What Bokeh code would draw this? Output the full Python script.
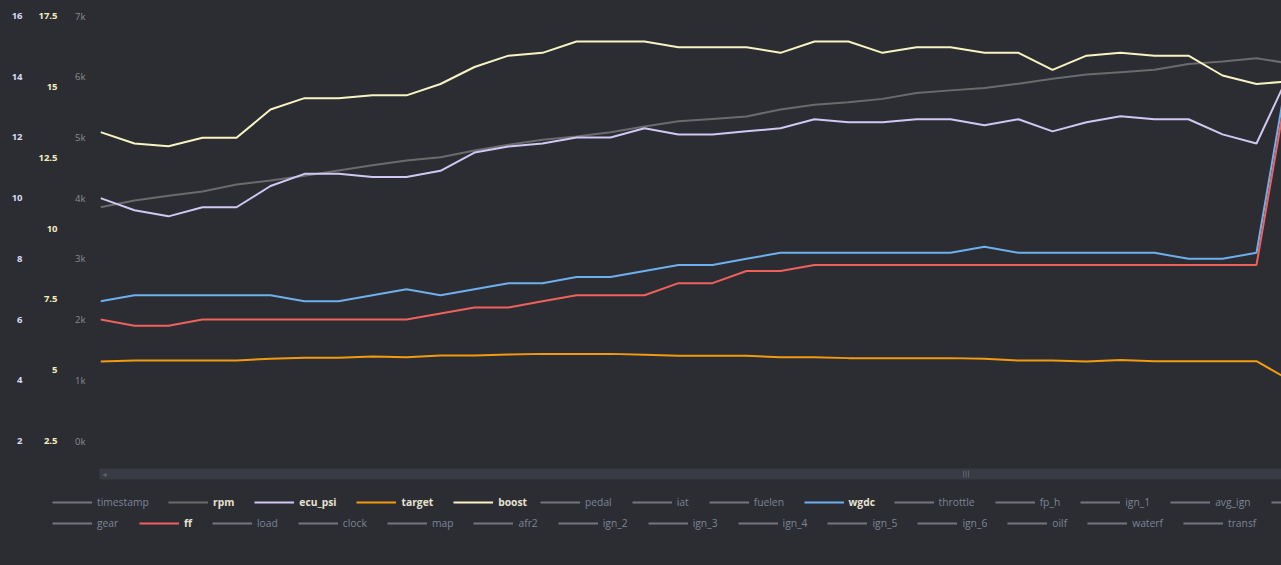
from bokeh.plotting import figure
from bokeh.models import (Range1d, LinearAxis, FixedTicker, Legend, LegendItem,
                          BoxAnnotation, Label)
from bokeh.layouts import column
from bokeh.embed import file_html
from bokeh.resources import INLINE

# ---- logged samples -------------------------------------------------------
sample = list(range(36))

rpm = [3850, 3960, 4040, 4110, 4225, 4290, 4370, 4455, 4540, 4620, 4675, 4785,
       4880, 4960, 5015, 5085, 5180, 5265, 5305, 5345, 5460, 5540, 5580, 5635,
       5730, 5775, 5815, 5885, 5965, 6035, 6075, 6115, 6210, 6250, 6305, 6215]

ecu_psi = [10.0, 9.6, 9.4, 9.7, 9.7, 10.4, 10.8, 10.8, 10.7, 10.7, 10.9, 11.5,
           11.7, 11.8, 12.0, 12.0, 12.3, 12.1, 12.1, 12.2, 12.3, 12.6, 12.5, 12.5,
           12.6, 12.6, 12.4, 12.6, 12.2, 12.5, 12.7, 12.6, 12.6, 12.1, 11.8, 14.2]

target = [4.62, 4.65, 4.65, 4.65, 4.65, 4.71, 4.74, 4.74, 4.78, 4.76, 4.82, 4.82,
          4.85, 4.87, 4.87, 4.87, 4.84, 4.81, 4.81, 4.81, 4.76, 4.76, 4.73, 4.73,
          4.73, 4.73, 4.71, 4.65, 4.65, 4.62, 4.67, 4.63, 4.63, 4.63, 4.63, 3.99]

boost = [13.4, 13.0, 12.9, 13.2, 13.2, 14.2, 14.6, 14.6, 14.7, 14.7, 15.1, 15.7,
         16.1, 16.2, 16.6, 16.6, 16.6, 16.4, 16.4, 16.4, 16.2, 16.6, 16.6, 16.2,
         16.4, 16.4, 16.2, 16.2, 15.6, 16.1, 16.2, 16.1, 16.1, 15.4, 15.1, 15.2]

wgdc = [6.6, 6.8, 6.8, 6.8, 6.8, 6.8, 6.6, 6.6, 6.8, 7.0, 6.8, 7.0,
        7.2, 7.2, 7.4, 7.4, 7.6, 7.8, 7.8, 8.0, 8.2, 8.2, 8.2, 8.2,
        8.2, 8.2, 8.4, 8.2, 8.2, 8.2, 8.2, 8.2, 8.0, 8.0, 8.2, 14.7]

ff = [6.0, 5.8, 5.8, 6.0, 6.0, 6.0, 6.0, 6.0, 6.0, 6.0, 6.2, 6.4,
      6.4, 6.6, 6.8, 6.8, 6.8, 7.2, 7.2, 7.6, 7.6, 7.8, 7.8, 7.8,
      7.8, 7.8, 7.8, 7.8, 7.8, 7.8, 7.8, 7.8, 7.8, 7.8, 7.8, 14.3]

# ---- axis ticks -----------------------------------------------------------
psi_ticks = [2, 4, 6, 8, 10, 12, 14, 16]
boost_ticks = [2.5, 5, 7.5, 10, 12.5, 15, 17.5]
rpm_ticks = [0, 1000, 2000, 3000, 4000, 5000, 6000, 7000]
rpm_tick_labels = ["0k", "1k", "2k", "3k", "4k", "5k", "6k", "7k"]

# ---- legend rows (last row-1 entry runs past the right edge) --------------
legend_row1 = ["timestamp", "rpm", "ecu_psi", "target", "boost", "pedal", "iat",
               "fuelen", "wgdc", "throttle", "fp_h", "ign_1", "avg_ign", " "]
legend_row2 = ["gear", "ff", "load", "clock", "map", "afr2", "ign_2", "ign_3",
               "ign_4", "ign_5", "ign_6", "oilf", "waterf", "transf"]

# ---- styling ----------------------------------------------------------------
BG = "#2c2d33"
TRACK = "#393b44"
COLORS = {
    "rpm": "#6b6b6d",
    "ecu_psi": "#d0c7f4",
    "target": "#f39a10",
    "boost": "#f8f4c2",
    "wgdc": "#6db0f0",
    "ff": "#ef615b",
}
IDLE_SWATCH = "#74777e"
IDLE_TEXT = "#7c8497"
ACTIVE_TEXT = "#e6e2d2"
FONT = "Open Sans"

W = 1281
TOP_H = 458
BOTTOM_H = 565 - TOP_H


def tick_span_range(lo, hi):
    # ticks fill 425 px of the 445 px frame, 10.5 px spare above, 9.5 below
    per_px = (hi - lo) / 425.0
    return Range1d(lo - 9.5 * per_px, hi + 10.5 * per_px)


def bare_figure(**kw):
    # the border area gets its colour from CSS, the frame from background_fill
    f = figure(width=W, output_backend="svg", toolbar_location=None,
               background_fill_color=BG, border_fill_color=None,
               outline_line_color=None, frame_align=False,
               styles={"background-color": BG}, **kw)
    f.grid.visible = False
    return f


p = bare_figure(height=TOP_H, x_axis_location=None,
                x_range=Range1d(0, 1181 / 34.0),
                y_range=tick_span_range(rpm_ticks[0], rpm_ticks[-1]),
                min_border_left=100, min_border_right=0,
                min_border_top=5, min_border_bottom=8)

p.extra_y_ranges = {
    "boost": tick_span_range(boost_ticks[0], boost_ticks[-1]),
    "psi": tick_span_range(psi_ticks[0], psi_ticks[-1]),
}


def style_axis(ax, ticks, labels, color, bold, standoff):
    ax.ticker = FixedTicker(ticks=ticks)
    ax.major_label_overrides = {t: l for t, l in zip(ticks, labels)}
    ax.axis_line_color = None
    ax.major_tick_line_color = None
    ax.minor_tick_line_color = None
    ax.major_tick_out = 0
    ax.major_tick_in = 0
    ax.minor_tick_out = 0
    ax.major_label_standoff = standoff
    ax.major_label_text_color = color
    ax.major_label_text_font = FONT
    ax.major_label_text_font_size = "9.5px"
    ax.major_label_text_font_style = "bold" if bold else "normal"


# rpm axis sits next to the frame, boost and psi stack outward
style_axis(p.yaxis[0], rpm_ticks, rpm_tick_labels, "#8b8b8e", False, 15)

boost_axis = LinearAxis(y_range_name="boost")
style_axis(boost_axis, boost_ticks, [f"{t:g}" for t in boost_ticks], "#f3edbf", True, 15)
p.add_layout(boost_axis, "left")

psi_axis = LinearAxis(y_range_name="psi")
style_axis(psi_axis, psi_ticks, [f"{t:g}" for t in psi_ticks], "#d9dbf3", True, 13)
p.add_layout(psi_axis, "left")

p.line(sample, rpm, line_color=COLORS["rpm"], line_width=2)
p.line(sample, ecu_psi, line_color=COLORS["ecu_psi"], line_width=2, y_range_name="psi")
p.line(sample, target, line_color=COLORS["target"], line_width=2, y_range_name="psi")
p.line(sample, boost, line_color=COLORS["boost"], line_width=2, y_range_name="boost")
p.line(sample, wgdc, line_color=COLORS["wgdc"], line_width=2, y_range_name="psi")
p.line(sample, ff, line_color=COLORS["ff"], line_width=2, y_range_name="psi")

# ---- scroll track + legend strip -------------------------------------------
q = bare_figure(height=BOTTOM_H, x_axis_location=None, y_axis_location=None,
                x_range=Range1d(0, W), y_range=Range1d(BOTTOM_H, 0),
                min_border_left=0, min_border_right=0,
                min_border_top=0, min_border_bottom=0)

q.add_layout(BoxAnnotation(left=99, right=W, top=10, bottom=21,
                           fill_color=TRACK, fill_alpha=1, line_alpha=0))
q.add_layout(Label(x=102, y=15.5, text="\u25c2", text_font="DejaVu Sans",
                   text_font_size="8px", text_color="#5f626a", text_baseline="middle"))
q.add_layout(Label(x=962, y=15.5, text="|||", text_font="DejaVu Sans",
                   text_font_size="7px", text_color="#7a7d85", text_baseline="middle"))

NAN = float("nan")


def swatch(name):
    # legend-only renderer: one NaN sample so the swatch has an index to style
    color = COLORS.get(name, IDLE_SWATCH)
    return q.line([NAN], [NAN], line_color=color, line_width=2)


def legend_block(names, x, y, active):
    items = [LegendItem(label=n, renderers=[swatch(n)]) for n in names]
    leg = Legend(items=items, location=(x, y), orientation="horizontal",
                 glyph_width=40, glyph_height=16, label_height=16, label_width=0,
                 label_standoff=5, spacing=20, padding=0, margin=0,
                 background_fill_alpha=0, border_line_color=None,
                 label_text_font=FONT, label_text_font_size="10.3px",
                 label_text_font_style="bold" if active else "normal",
                 label_text_color=ACTIVE_TEXT if active else IDLE_TEXT)
    q.add_layout(leg)


ROW1_Y, ROW2_Y = 55, 34.5
r1 = legend_row1
legend_block(r1[0:1], 52, ROW1_Y, False)
legend_block(r1[1:5], 168, ROW1_Y, True)
legend_block(r1[5:8], 540, ROW1_Y, False)
legend_block(r1[8:9], 803.5, ROW1_Y, True)
legend_block(r1[9:], 893.5, ROW1_Y, False)

r2 = legend_row2
legend_block(r2[0:1], 52, ROW2_Y, False)
legend_block(r2[1:2], 139, ROW2_Y, True)
legend_block(r2[2:], 212, ROW2_Y, False)

layout = column(p, q, spacing=0, styles={"background-color": BG})
open("out.html", "w").write(file_html(layout, INLINE))
